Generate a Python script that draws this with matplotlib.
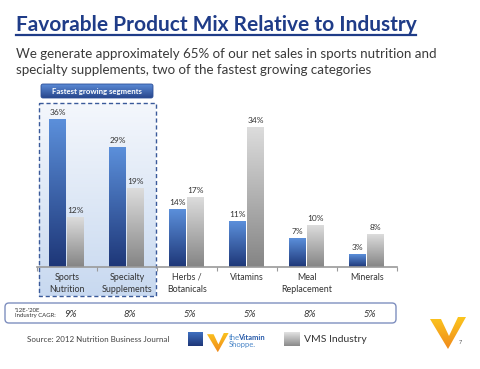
import numpy as np
import matplotlib.pyplot as plt
import matplotlib.transforms as mtransforms
from matplotlib.colors import to_rgba
from matplotlib.patches import FancyBboxPatch, Rectangle, Polygon

plt.rcParams['font.family'] = ['Lato', 'DejaVu Sans']

# data
categories = ["Sports\nNutrition", "Specialty\nSupplements", "Herbs /\nBotanicals",
              "Vitamins", "Meal\nReplacement", "Minerals"]
vitamin_shoppe = [36, 29, 14, 11, 7, 3]
vms_industry = [12, 19, 17, 34, 10, 8]
industry_cagr = ["9%", "8%", "5%", "5%", "8%", "5%"]

W, H = 480, 369
fig = plt.figure(figsize=(W / 100, H / 100), dpi=100)

# background layer in pixel coords (y down)
bg = fig.add_axes([0, 0, 1, 1], zorder=0)
bg.set_xlim(0, W)
bg.set_ylim(H, 0)
bg.axis("off")


def grad(ax, x0, x1, ytop, ybot, c_top, c_bot, clip=None, z=1):
    a = np.array(to_rgba(c_top))
    b = np.array(to_rgba(c_bot))
    t = np.linspace(0, 1, 64)[:, None]
    img = (a * (1 - t) + b * t)[:, None, :]
    im = ax.imshow(img, extent=(x0, x1, ybot, ytop), origin="upper",
                   aspect="auto", interpolation="bilinear", zorder=z)
    if clip is not None:
        im.set_clip_path(clip)
    return im


# title + subtitle
bg.text(16, 31, "Favorable Product Mix Relative to Industry", fontsize=15,
        fontweight="bold", color="#1F3C88", va="baseline", ha="left")
bg.plot([16, 416], [34.5, 34.5], color="#1F3C88", lw=1.6)
bg.text(16, 58, "We generate approximately 65% of our net sales in sports nutrition and",
        fontsize=9.6, color="#3A3A3A", va="baseline")
bg.text(16, 74, "specialty supplements, two of the fastest growing categories",
        fontsize=9.6, color="#3A3A3A", va="baseline")

# highlighted region for the two fastest growing segments
grad(bg, 39, 156, 103, 296, "#F4F7FC", "#C8D9F0", z=1)
bg.add_patch(Rectangle((39, 103), 117, 193, fill=False, ec="#3A5A9A",
                       lw=1.0, ls=(0, (3, 2)), zorder=2))
hdr = FancyBboxPatch((41, 84), 112, 14, boxstyle="round,pad=0,rounding_size=2",
                     fc="none", ec="#2B4E96", lw=0.6, zorder=3)
bg.add_patch(hdr)
grad(bg, 41, 153, 84, 98, "#5B8AD6", "#27468C", clip=hdr, z=2)
bg.text(97, 91.5, "Fastest growing segments", fontsize=5.6, fontweight="bold",
        color="white", ha="center", va="center", zorder=4)

# chart
ax = fig.add_axes([37 / W, (H - 267) / H, 360 / W, 162 / H], zorder=2)
ax.set_facecolor("none")
x = np.arange(len(categories))
bw = 0.28
b1 = ax.bar(x - 0.155, vitamin_shoppe, bw, color="none")
b2 = ax.bar(x + 0.145, vms_industry, bw, color="none")
for bars, ct, cb in [(b1, "#5B8FDA", "#1E3778"), (b2, "#DCDCDC", "#858585")]:
    for p in bars:
        x0, y0 = p.get_x(), p.get_y()
        grad(ax, x0, x0 + p.get_width(), p.get_height(), y0, ct, cb, z=2)
    for p, v in zip(bars, bars.datavalues):
        ax.annotate(f"{v:.0f}%", (p.get_x() + p.get_width() / 2, v),
                    xytext=(0, 2.5), textcoords="offset points", ha="center",
                    va="bottom", fontsize=6, color="#333333")
ax.set_xlim(-0.5, len(categories) - 0.5)
ax.set_ylim(0, 162 / 4.11)
ax.set_yticks([])
ax.set_xticks(np.arange(len(categories) + 1) - 0.5)
ax.set_xticklabels([])
ax.set_xticks(x, minor=True)
ax.set_xticklabels(categories, minor=True, fontsize=6.4, color="#333333",
                   linespacing=1.45)
ax.tick_params(axis="x", which="major", length=3, color="#9A9A9A", width=0.8)
ax.tick_params(axis="x", which="minor", length=0, pad=4)
for s in ["top", "left", "right"]:
    ax.spines[s].set_visible(False)
ax.spines["bottom"].set_color("#9A9A9A")
ax.spines["bottom"].set_linewidth(1.2)

# industry CAGR row
bg.add_patch(FancyBboxPatch((5, 303), 391, 20, boxstyle="round,pad=0,rounding_size=4",
                            fc="white", ec="#7F8FBF", lw=1.0, zorder=1))
bg.text(15, 313, "'12E-'20E\nIndustry CAGR:", fontsize=4.3, color="#333333",
        va="center", linespacing=1.1, zorder=3)
blend = mtransforms.blended_transform_factory(ax.transData, bg.transData)
for i, c in enumerate(industry_cagr):
    bg.text(i + 0.05, 314.5, c, transform=blend, fontsize=6.8, style="italic",
            color="#333333", ha="center", va="center", zorder=3)

# source and legend
bg.text(27, 340, "Source: 2012 Nutrition Business Journal", fontsize=5.8,
        color="#444444", va="center")
grad(bg, 188, 203, 332, 346, "#3F6FC0", "#1E3778", z=2)
grad(bg, 284, 300, 332, 346, "#E2E2E2", "#8A8A8A", z=2)
bg.text(304, 339.5, "VMS Industry", fontsize=7.5, color="#333333", va="center")


def v_logo(x0, y0, s, z=3):
    pts = np.array([(0, 2), (11, 2), (19, 19), (28, 0), (36, 0), (18, 32)]) * s
    pts = pts + [x0, y0]
    poly = Polygon(pts, closed=True, fc="none", ec="none")
    bg.add_patch(poly)
    grad(bg, pts[:, 0].min(), pts[:, 0].max(), pts[:, 1].min(), pts[:, 1].max(),
         "#FBC51E", "#F08A1C", clip=poly, z=z)


v_logo(207, 333, 0.6)
bg.text(229, 337, "the", fontsize=5.5, color="#4A86C8", va="center")
bg.text(238.5, 337, "Vitamin", fontsize=5.5, color="#2A5CAA", fontweight="bold", va="center")
bg.text(229, 344.5, "Shoppe.", fontsize=5.5, color="#4A86C8", va="center")

v_logo(430, 317, 1.0)
bg.text(459, 343, "7", fontsize=4, color="#555555", va="center")

fig.savefig("out.png", dpi=100)
